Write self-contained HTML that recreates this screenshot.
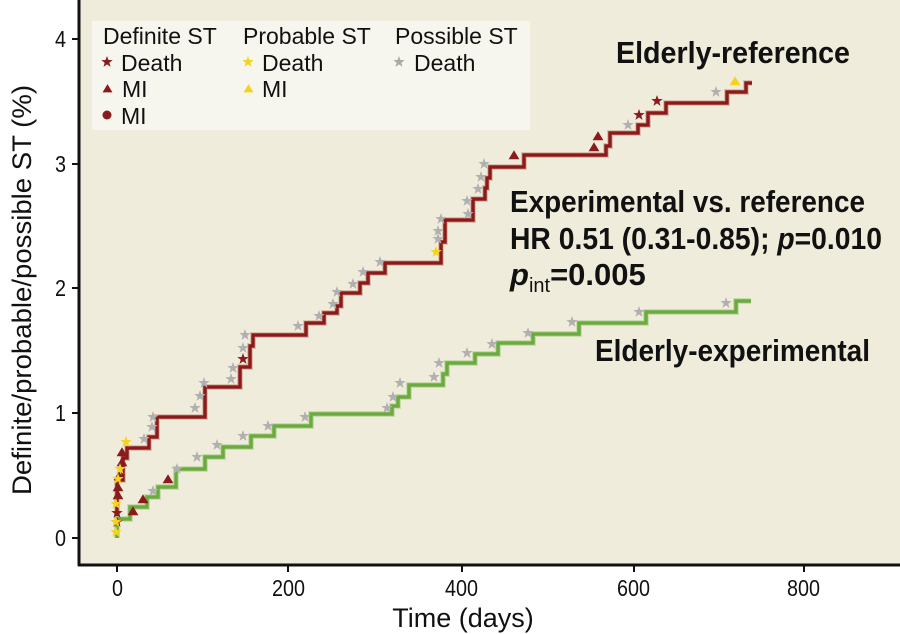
<!DOCTYPE html>
<html><head><meta charset="utf-8"><style>
html,body{margin:0;padding:0;background:#fff;}
svg{display:block;}
.t{font-family:"Liberation Sans Narrow","Liberation Sans",sans-serif;}
.r{font-family:"Liberation Sans",sans-serif;}
</style></head><body>
<svg width="900" height="634" viewBox="0 0 900 634" xmlns="http://www.w3.org/2000/svg">
<defs>
<symbol id="st" viewBox="-1 -1 2 2"><polygon points="0,-1 0.235,-0.324 0.951,-0.309 0.381,0.124 0.588,0.809 0,0.4 -0.588,0.809 -0.381,0.124 -0.951,-0.309 -0.235,-0.324"/></symbol>
<symbol id="tr" viewBox="-1 -1 2 2"><polygon points="0,-0.8 0.9,0.7 -0.9,0.7"/></symbol>
</defs>
<rect x="0" y="0" width="900" height="634" fill="#fff"/>
<rect x="80" y="0" width="820" height="565" fill="#f0ecdb"/>
<line x1="79" y1="0" x2="79" y2="566" stroke="#111" stroke-width="3"/>
<line x1="78" y1="565" x2="900" y2="565" stroke="#111" stroke-width="3"/>
<g stroke="#111" stroke-width="2">
<line x1="72" y1="538" x2="79" y2="538"/><line x1="72" y1="413" x2="79" y2="413"/><line x1="72" y1="288" x2="79" y2="288"/><line x1="72" y1="164" x2="79" y2="164"/><line x1="72" y1="39" x2="79" y2="39"/>
<line x1="117" y1="565" x2="117" y2="572"/><line x1="288" y1="565" x2="288" y2="572"/><line x1="462" y1="565" x2="462" y2="572"/><line x1="634" y1="565" x2="634" y2="572"/><line x1="804" y1="565" x2="804" y2="572"/>
</g>
<g class="t" font-size="23" fill="#111" text-anchor="end">
<text x="66" y="546" textLength="11" lengthAdjust="spacingAndGlyphs">0</text><text x="66" y="421" textLength="11" lengthAdjust="spacingAndGlyphs">1</text><text x="66" y="296" textLength="11" lengthAdjust="spacingAndGlyphs">2</text><text x="66" y="172" textLength="11" lengthAdjust="spacingAndGlyphs">3</text><text x="66" y="47" textLength="11" lengthAdjust="spacingAndGlyphs">4</text>
</g>
<g class="t" font-size="23" fill="#111">
<text x="112" y="596" textLength="11" lengthAdjust="spacingAndGlyphs">0</text><text x="272" y="596" textLength="33" lengthAdjust="spacingAndGlyphs">200</text><text x="445" y="596" textLength="33" lengthAdjust="spacingAndGlyphs">400</text><text x="617" y="596" textLength="33" lengthAdjust="spacingAndGlyphs">600</text><text x="787" y="596" textLength="33" lengthAdjust="spacingAndGlyphs">800</text>
</g>
<text class="r" x="463" y="627" font-size="27" text-anchor="middle" fill="#111">Time (days)</text>
<text class="r" transform="translate(31,290) rotate(-90)" font-size="27" text-anchor="middle" fill="#111" textLength="410" lengthAdjust="spacingAndGlyphs">Definite/probable/possible ST (%)</text>

<rect x="92" y="21" width="438" height="109" fill="#f7f6ee"/>
<g class="r" font-size="23" fill="#111">
<text x="103" y="44">Definite ST</text><text x="243" y="44">Probable ST</text><text x="395" y="44">Possible ST</text>
<text x="121" y="71">Death</text><text x="262" y="71">Death</text><text x="414" y="71">Death</text>
<text x="122" y="97">MI</text><text x="262" y="97">MI</text>
<text x="121" y="124">MI</text>
</g>
<use href="#st" x="101" y="56" width="12" height="12" fill="#8b1a1a"/>
<use href="#st" x="242" y="56" width="12" height="12" fill="#f5d31c"/>
<use href="#st" x="393" y="56" width="12" height="12" fill="#a9a9a9"/>
<use href="#tr" x="102" y="83" width="11" height="11" fill="#8b1a1a"/>
<use href="#tr" x="243" y="83" width="11" height="11" fill="#f5d31c"/>
<circle cx="107" cy="115" r="4.5" fill="#8b1a1a"/>

<g fill="none">
<path d="M117,538 V480 H123 V458 H127 V448 H149 V437 H157 V417 H205 V387 H240 V367 H250 V346 H253 V335 H306 V323 H324 V313 H337 V306 H341 V293 H360 V283 H368 V273 H385 V263 H441 V242 H445 V220 H473 V199 H485 V188 H487 V178 H490 V167 H524 V155 H606 V146 H610 V133 H638 V125 H648 V113 H666 V103 H727 V92 H746 V83 H752" stroke="#dcc0b0" stroke-width="6"/>
<path d="M117,538 V480 H123 V458 H127 V448 H149 V437 H157 V417 H205 V387 H240 V367 H250 V346 H253 V335 H306 V323 H324 V313 H337 V306 H341 V293 H360 V283 H368 V273 H385 V263 H441 V242 H445 V220 H473 V199 H485 V188 H487 V178 H490 V167 H524 V155 H606 V146 H610 V133 H638 V125 H648 V113 H666 V103 H727 V92 H746 V83 H752" stroke="#8b1a1a" stroke-width="3.5"/>
<path d="M117,538 V519 H130 V507 H147 V497 H158 V487 H176 V469 H205 V457 H223 V447 H251 V436 H274 V426 H311 V414 H392 V406 H398 V397 H409 V385 H443 V374 H447 V363 H475 V354 H498 V343 H533 V334 H579 V323 H646 V312 H736 V301 H751" stroke="#c8dcb0" stroke-width="6"/>
<path d="M117,538 V519 H130 V507 H147 V497 H158 V487 H176 V469 H205 V457 H223 V447 H251 V436 H274 V426 H311 V414 H392 V406 H398 V397 H409 V385 H443 V374 H447 V363 H475 V354 H498 V343 H533 V334 H579 V323 H646 V312 H736 V301 H751" stroke="#6aaa3f" stroke-width="3.5"/>
</g>

<g fill="#b0b0b0">
<use href="#st" x="478" y="158" width="12" height="12"/><use href="#st" x="475" y="171" width="12" height="12"/><use href="#st" x="472" y="183" width="12" height="12"/><use href="#st" x="461" y="195" width="12" height="12"/><use href="#st" x="462" y="208" width="12" height="12"/><use href="#st" x="435" y="213" width="12" height="12"/><use href="#st" x="432" y="225" width="12" height="12"/><use href="#st" x="432" y="233" width="12" height="12"/><use href="#st" x="374" y="256" width="12" height="12"/><use href="#st" x="357" y="266" width="12" height="12"/><use href="#st" x="347" y="278" width="12" height="12"/><use href="#st" x="331" y="286" width="12" height="12"/><use href="#st" x="327" y="298" width="12" height="12"/><use href="#st" x="313" y="310" width="12" height="12"/><use href="#st" x="292" y="320" width="12" height="12"/><use href="#st" x="239" y="329" width="12" height="12"/><use href="#st" x="237" y="342" width="12" height="12"/><use href="#st" x="227" y="362" width="12" height="12"/><use href="#st" x="225" y="373" width="12" height="12"/><use href="#st" x="198" y="377" width="12" height="12"/><use href="#st" x="194" y="390" width="12" height="12"/><use href="#st" x="189" y="402" width="12" height="12"/><use href="#st" x="147" y="411" width="12" height="12"/><use href="#st" x="146" y="421" width="12" height="12"/><use href="#st" x="138" y="433" width="12" height="12"/>
<use href="#st" x="237" y="430" width="12" height="12"/><use href="#st" x="262" y="420" width="12" height="12"/><use href="#st" x="299" y="411" width="12" height="12"/><use href="#st" x="381" y="402" width="12" height="12"/><use href="#st" x="387" y="391" width="12" height="12"/><use href="#st" x="394" y="377" width="12" height="12"/><use href="#st" x="428" y="371" width="12" height="12"/><use href="#st" x="433" y="357" width="12" height="12"/><use href="#st" x="461" y="347" width="12" height="12"/><use href="#st" x="486" y="338" width="12" height="12"/><use href="#st" x="522" y="327" width="12" height="12"/><use href="#st" x="566" y="316" width="12" height="12"/><use href="#st" x="633" y="306" width="12" height="12"/><use href="#st" x="720" y="297" width="12" height="12"/>
<use href="#st" x="147" y="485" width="12" height="12"/><use href="#st" x="171" y="463" width="12" height="12"/><use href="#st" x="191" y="451" width="12" height="12"/><use href="#st" x="211" y="439" width="12" height="12"/>
<use href="#st" x="622" y="119" width="12" height="12"/><use href="#st" x="710" y="86" width="12" height="12"/>
</g>
<g fill="#8b1a1a">
<use href="#st" x="237" y="353" width="12" height="12"/><use href="#st" x="633" y="109" width="12" height="12"/><use href="#st" x="651" y="95" width="12" height="12"/>
<use href="#st" x="111" y="507" width="12" height="12"/><use href="#st" x="111" y="516" width="12" height="12"/>
<use href="#tr" x="162" y="473" width="12" height="12"/><use href="#tr" x="137" y="493" width="12" height="12"/><use href="#tr" x="127" y="505" width="12" height="12"/>
<use href="#tr" x="116" y="446" width="12" height="12"/><use href="#tr" x="116" y="456" width="12" height="12"/><use href="#tr" x="112" y="481" width="12" height="12"/><use href="#tr" x="112" y="489" width="12" height="12"/><use href="#tr" x="113" y="470" width="12" height="12"/>
<use href="#tr" x="508" y="149" width="12" height="12"/><use href="#tr" x="588" y="141" width="12" height="12"/><use href="#tr" x="592" y="130" width="12" height="12"/>
</g>
<g fill="#f5d31c">
<use href="#st" x="430" y="246" width="12" height="12"/><use href="#st" x="120" y="436" width="12" height="12"/><use href="#st" x="114" y="463" width="12" height="12"/><use href="#st" x="112" y="473" width="12" height="12"/><use href="#st" x="110" y="498" width="12" height="12"/><use href="#st" x="110" y="516" width="12" height="12"/><use href="#st" x="110" y="526" width="12" height="12"/>
<use href="#tr" x="729" y="75" width="12" height="12"/>
</g>

<g class="t" font-weight="bold" font-size="31" fill="#111">
<text x="616" y="63" textLength="234" lengthAdjust="spacingAndGlyphs">Elderly-reference</text>
<text x="510" y="212" textLength="355" lengthAdjust="spacingAndGlyphs">Experimental vs. reference</text>
<text x="510" y="249" textLength="372" lengthAdjust="spacingAndGlyphs">HR 0.51 (0.31-0.85); <tspan font-style="italic">p</tspan>=0.010</text>
<text x="510" y="285"><tspan font-style="italic">p</tspan><tspan font-size="20" dy="7" font-weight="normal">int</tspan><tspan dy="-7">=0.005</tspan></text>
<text x="595" y="361" textLength="275" lengthAdjust="spacingAndGlyphs">Elderly-experimental</text>
</g>
</svg>
</body></html>
